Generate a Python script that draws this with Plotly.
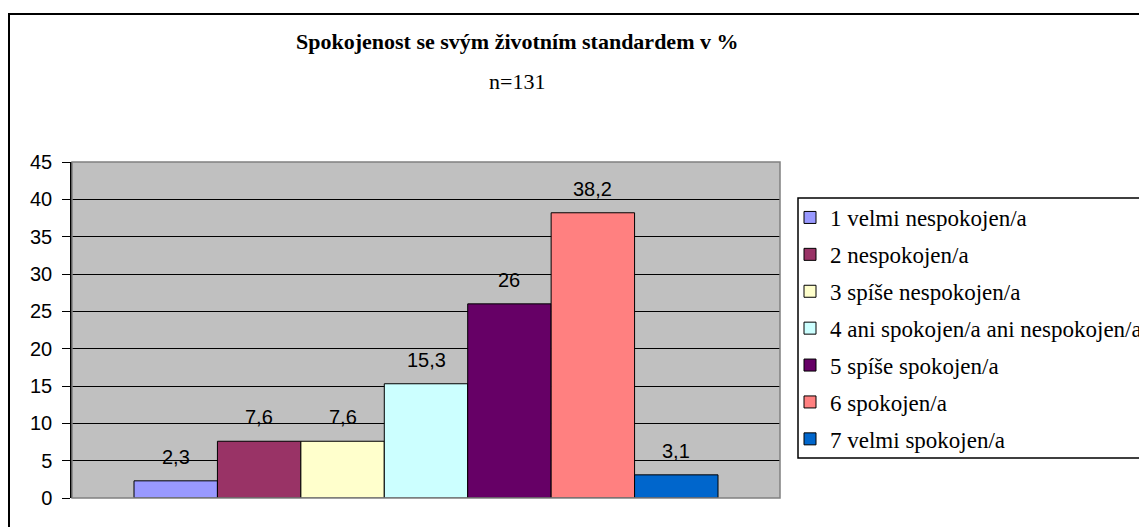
import plotly.graph_objects as go

categories = ["1 velmi nespokojen/a", "2 nespokojen/a", "3 spíše nespokojen/a",
              "4 ani spokojen/a ani nespokojen/a", "5 spíše spokojen/a",
              "6 spokojen/a", "7 velmi spokojen/a"]
values = [2.3, 7.6, 7.6, 15.3, 26, 38.2, 3.1]
labels = ["2,3", "7,6", "7,6", "15,3", "26", "38,2", "3,1"]
colors = ["#9999FF", "#993366", "#FFFFCC", "#CCFFFF", "#660066", "#FF8080", "#0066CC"]
y_ticks = [0, 5, 10, 15, 20, 25, 30, 35, 40, 45]

# page body has an 8px margin, so the figure is sized to fit the window
W, H = 1139, 519
L, R, T, B = 64, 772, 154, 490  # plot area pixels (figure coords)

def px_x(p):
    return (p - L) / (R - L)

def px_y(p):
    return (B - p) / (B - T)

SERIF = "Liberation Serif, Times New Roman, serif"
SANS = "Liberation Sans, Arial, sans-serif"

fig = go.Figure()
for i, (cat, v, c) in enumerate(zip(categories, values, colors)):
    fig.add_trace(go.Bar(
        x=[i], y=[v], width=1, name=cat, legendgroup=cat,
        marker=dict(color=c, line=dict(color="black", width=1)),
        hoverinfo="name+y",
    ))

annotations = []
for i, (v, lab) in enumerate(zip(values, labels)):
    annotations.append(dict(x=i, y=v, xref="x", yref="y", text=lab, showarrow=False,
                            yanchor="middle", yshift=24,
                            font=dict(family=SANS, size=20, color="black")))

annotations.append(dict(x=px_x(509), y=px_y(34), xref="paper", yref="paper",
                        text="<b>Spokojenost se svým životním standardem v %</b>",
                        showarrow=False, xanchor="center", yanchor="middle",
                        font=dict(family=SERIF, size=22, color="black")))
annotations.append(dict(x=px_x(509), y=px_y(74), xref="paper", yref="paper",
                        text="n=131", showarrow=False, xanchor="center", yanchor="middle",
                        font=dict(family=SERIF, size=22, color="black")))

shapes = [
    # legend box
    dict(type="rect", xref="paper", yref="paper",
         x0=px_x(790), x1=px_x(1160), y0=px_y(450), y1=px_y(190),
         line=dict(color="black", width=1.5), fillcolor="white", layer="below"),
    # plot area border
    dict(type="rect", xref="paper", yref="paper", x0=0, x1=1, y0=0, y1=1,
         line=dict(color="#808080", width=1.5), layer="above"),
    # outer chart frame
    dict(type="rect", xref="paper", yref="paper",
         x0=px_x(1), x1=px_x(1200), y0=px_y(6), y1=px_y(560),
         line=dict(color="black", width=2), layer="above"),
]

px_per_unit = (710 - 126) / 7
x_lo = -0.5 - (126 - L) / px_per_unit
x_hi = 6.5 + (R - 710) / px_per_unit

fig.update_layout(
    width=W, height=H,
    margin=dict(l=L, r=W - R, t=T, b=H - B, autoexpand=False),
    paper_bgcolor="white", plot_bgcolor="#C0C0C0",
    barmode="overlay",
    showlegend=True,
    legend=dict(x=px_x(782), y=px_y(188), xanchor="left", yanchor="top",
                bgcolor="rgba(0,0,0,0)", borderwidth=0,
                font=dict(family=SERIF, size=23, color="black"),
                traceorder="grouped", tracegroupgap=4, itemclick=False),
    xaxis=dict(range=[x_lo, x_hi], showticklabels=False, showgrid=False, zeroline=False,
               ticks="", showline=False, fixedrange=True),
    yaxis=dict(range=[0, 45], tickvals=y_ticks, ticks="outside", ticklen=8, tickcolor="black",
               tickwidth=1, showline=True, linecolor="black", linewidth=1.5,
               showgrid=True, gridcolor="black", gridwidth=1, zeroline=False,
               tickfont=dict(family=SANS, size=20, color="black"),
               ticklabelstandoff=6, fixedrange=True),
    annotations=annotations,
    shapes=shapes,
)

fig.write_html("out.html")
